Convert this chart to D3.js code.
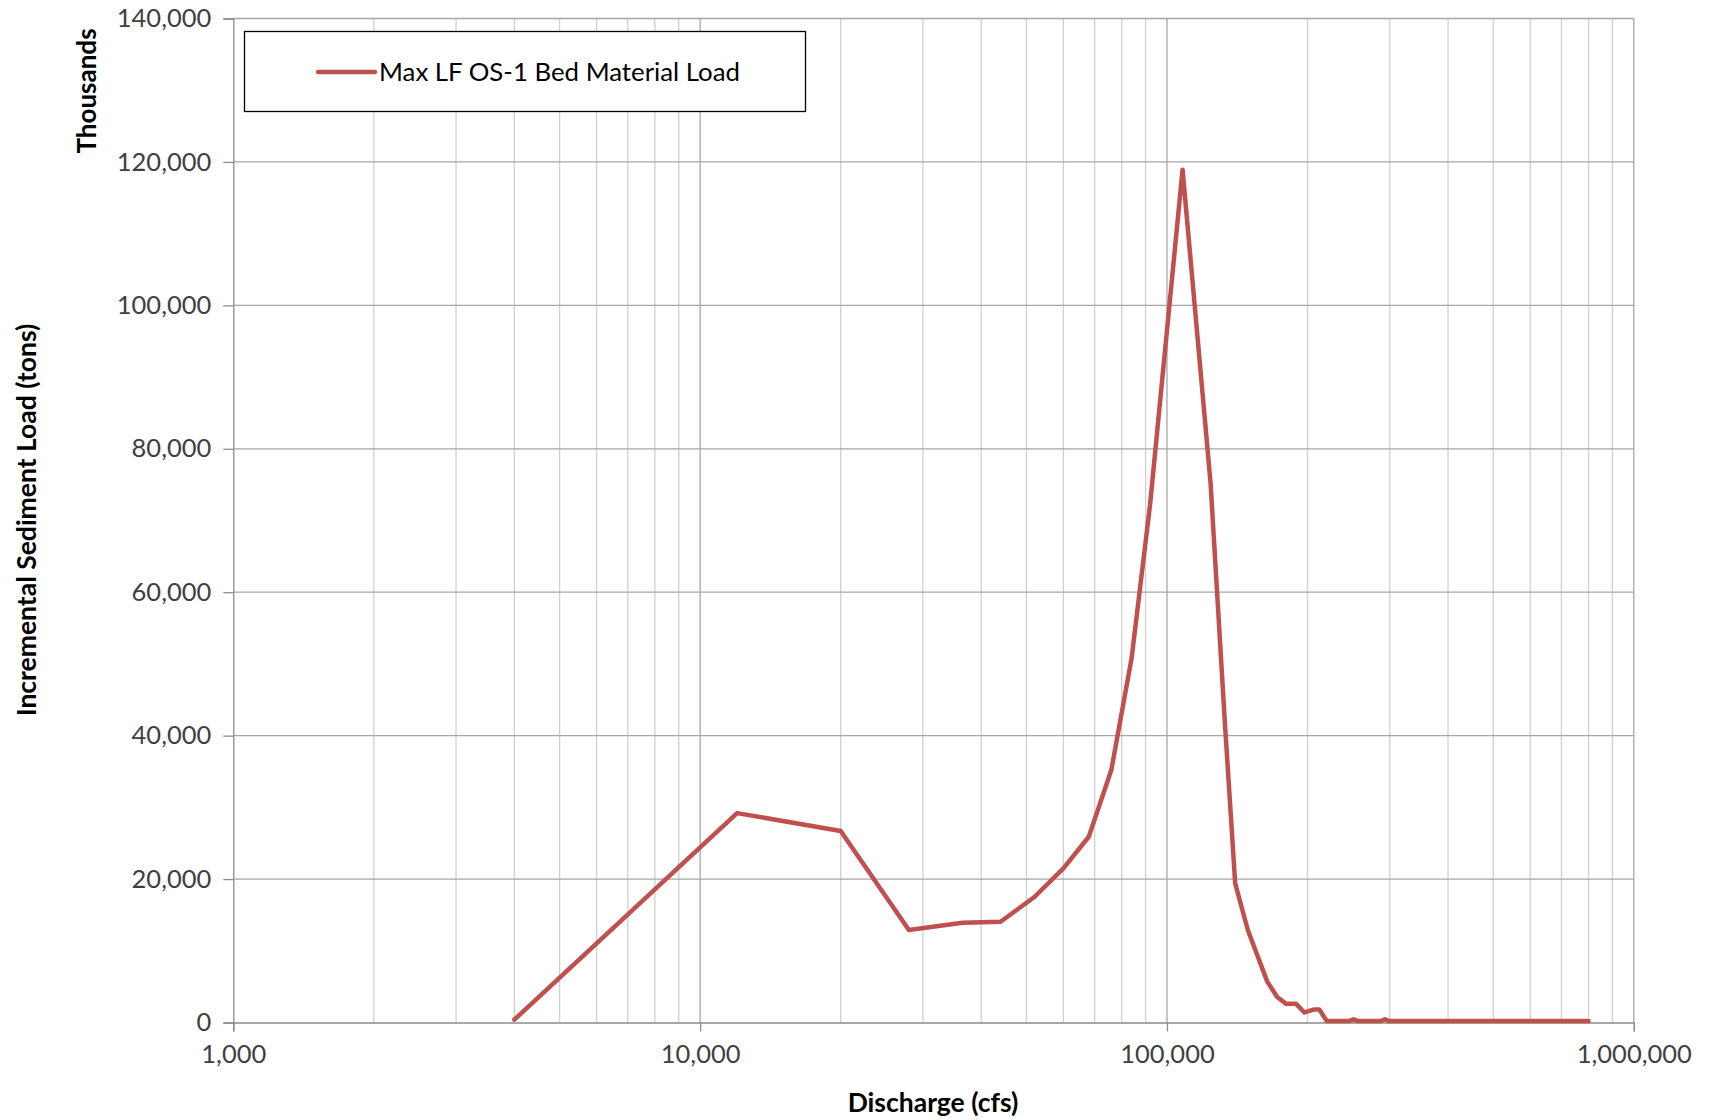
<!DOCTYPE html>
<html>
<head>
<meta charset="utf-8">
<script src="https://cdn.jsdelivr.net/npm/d3@7"></script>
<style>
  html, body { margin: 0; padding: 0; background: #fff; }
  svg { display: block; }
</style>
</head>
<body>
<svg id="chart" width="1709" height="1120"></svg>
<script>
// ---- data (discharge in cfs, load in thousands of tons) ----
const seriesName = "Max LF OS-1 Bed Material Load";
const discharge = [4000, 12000, 20000, 28000, 36500, 44000, 52000, 60000, 68000, 76000, 84000, 92000, 108000, 124000, 133000, 140000, 149000, 164000, 172000, 180000, 189000, 197000, 206000, 212000, 220000, 245000, 251000, 257000, 287000, 293000, 299000, 800000];
const load = [400, 29200, 26700, 12900, 13900, 14050, 17500, 21500, 25900, 35200, 50800, 72200, 118900, 75200, 42000, 19400, 12900, 5700, 3600, 2600, 2600, 1400, 1800, 1800, 200, 200, 450, 200, 200, 450, 200, 200];
const yTicks = [0, 20000, 40000, 60000, 80000, 100000, 120000, 140000];
const xTicks = [1000, 10000, 100000, 1000000];
const xTitle = "Discharge (cfs)";
const yTitle = "Incremental Sediment Load (tons)";
const yUnit = "Thousands";

const svg = d3.select("#chart");
const L = 233.3, R = 1633.8, T = 18.5, B = 1022.5;
const x = d3.scaleLog().domain([1000, 1000000]).range([L, R]);
const y = d3.scaleLinear().domain([0, 140000]).range([B, T]);
const font = "Lato, 'Open Sans', sans-serif";

// minor vertical gridlines
const minor = [];
for (let d = 1000; d < 1000000; d *= 10) for (let k = 2; k <= 9; k++) minor.push(d * k);
svg.append("g").selectAll("line").data(minor).join("line")
  .attr("x1", d => x(d)).attr("x2", d => x(d)).attr("y1", T).attr("y2", B)
  .attr("stroke", "#d0d0d0").attr("stroke-width", 1.3);

// horizontal gridlines
svg.append("g").selectAll("line").data(yTicks.filter(v => v > 0)).join("line")
  .attr("x1", L).attr("x2", R).attr("y1", d => y(d)).attr("y2", d => y(d))
  .attr("stroke", "#a6a6a6").attr("stroke-width", 1.3);

// major vertical gridlines
svg.append("g").selectAll("line").data(xTicks.slice(1)).join("line")
  .attr("x1", d => x(d)).attr("x2", d => x(d)).attr("y1", T).attr("y2", B)
  .attr("stroke", "#a6a6a6").attr("stroke-width", 1.3);

// axes
const yAxis = svg.append("g").attr("transform", `translate(${L},0)`)
  .call(d3.axisLeft(y).tickValues(yTicks).tickFormat(d3.format(",")).tickSize(10).tickPadding(12));
const xAxis = svg.append("g").attr("transform", `translate(0,${B})`)
  .call(d3.axisBottom(x).tickValues(xTicks).tickFormat(d3.format(",")).tickSize(9).tickPadding(13));
[yAxis, xAxis].forEach(a => {
  a.select(".domain").attr("stroke", "#8c8c8c").attr("stroke-width", 1.3);
  a.selectAll(".tick line").attr("stroke", "#8c8c8c").attr("stroke-width", 1.3);
  a.selectAll("text").attr("font-family", font).attr("font-size", 25.5).attr("fill", "#404040");
});

// line
const line = d3.line().x((d, i) => x(discharge[i])).y(d => y(d));
svg.append("path").datum(load).attr("d", line)
  .attr("fill", "none").attr("stroke", "#c0504d").attr("stroke-width", 4.5)
  .attr("stroke-linejoin", "round").attr("stroke-linecap", "round");

// legend
const lg = svg.append("g");
lg.append("rect").attr("x", 244.5).attr("y", 31.5).attr("width", 561).attr("height", 80)
  .attr("fill", "#fff").attr("stroke", "#000").attr("stroke-width", 1.3);
lg.append("line").attr("x1", 318).attr("x2", 375).attr("y1", 72).attr("y2", 72)
  .attr("stroke", "#c0504d").attr("stroke-width", 4.5).attr("stroke-linecap", "round");
lg.append("text").attr("x", 379).attr("y", 72).attr("dy", "0.35em")
  .attr("font-family", font).attr("font-size", 25.8).attr("fill", "#000").text(seriesName);

// titles
svg.append("text").attr("x", 933).attr("y", 1103).attr("dy", "0.35em")
  .attr("text-anchor", "middle").attr("font-family", font).attr("font-weight", "bold")
  .attr("font-size", 26.5).attr("fill", "#000").text(xTitle);
svg.append("text").attr("transform", "translate(27,520) rotate(-90)").attr("dy", "0.35em")
  .attr("text-anchor", "middle").attr("font-family", font).attr("font-weight", "bold")
  .attr("font-size", 26.5).attr("fill", "#000").text(yTitle);
svg.append("text").attr("transform", "translate(87,91) rotate(-90)").attr("dy", "0.35em")
  .attr("text-anchor", "middle").attr("font-family", font).attr("font-weight", "bold")
  .attr("font-size", 26).attr("fill", "#000").text(yUnit);
</script>
</body>
</html>
